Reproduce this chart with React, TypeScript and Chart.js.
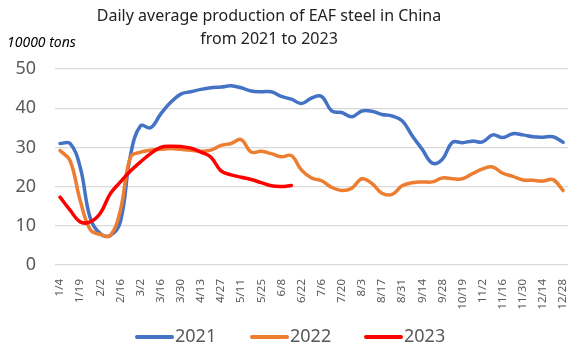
import React, { useEffect, useRef } from "react";
import { Chart, registerables } from "chart.js";

Chart.register(...registerables);

const categories = [
  "1/4", "1/11", "1/19", "1/26", "2/2", "2/9", "2/16", "2/23", "3/2", "3/9",
  "3/16", "3/23", "3/30", "4/6", "4/13", "4/20", "4/27", "5/4", "5/11", "5/18",
  "5/25", "6/1", "6/8", "6/15", "6/22", "6/29", "7/6", "7/13", "7/20", "7/27",
  "8/3", "8/10", "8/17", "8/24", "8/31", "9/7", "9/14", "9/21", "9/28", "10/12",
  "10/19", "10/26", "11/2", "11/9", "11/16", "11/23", "11/30", "12/7", "12/14", "12/21",
  "12/28",
];

const values2021 = [
  31, 31, 25, 12, 8, 7.5, 11, 28, 35.5, 35, 38.5, 41.5, 43.6,
  44.2, 44.8, 45.2, 45.4, 45.7, 45.2, 44.4, 44.2, 44.2, 43, 42.3, 41.2,
  42.6, 43, 39.3, 38.9, 37.8, 39.3, 39.2, 38.4, 38, 36.8, 33, 29.5, 26,
  27, 31.3, 31.2, 31.6, 31.4, 33.2, 32.5, 33.5, 33.2, 32.7, 32.6, 32.7, 31.3,
];

const values2022 = [
  29.2, 26.6, 16.5, 9, 7.8, 7.5, 14, 27.5, 28.8, 29.3, 29.5, 29.7, 29.5,
  29.3, 29, 29.3, 30.5, 31, 32, 28.8, 29, 28.4, 27.6, 27.9, 24.2,
  22.2, 21.5, 19.8, 19, 19.6, 22, 20.8, 18.3, 18, 20.2, 21, 21.2, 21.2,
  22.2, 22, 22, 23.3, 24.5, 25, 23.4, 22.6, 21.7, 21.6, 21.4, 21.8, 19,
];

const values2023 = [
  17.3, 14, 11, 11, 13.2, 18.2, 21.2, 24, 26.3, 28.4, 30, 30.3, 30.2,
  29.8, 28.8, 27.5, 24, 23, 22.4, 21.8, 21, 20.2, 20, 20.3,
];

const seriesNames = ["2021", "2022", "2023"];
const seriesColors = ["#4472C4", "#ED7D31", "#FF0000"];

const yTicks = [0, 10, 20, 30, 40, 50];

const titleLines = ["Daily average production of EAF steel in China", "from 2021 to 2023"];
const unitLabel = "10000 tons";

const FONT = "'Noto Sans', 'Open Sans', sans-serif";

export default function App() {
  const canvasRef = useRef<HTMLCanvasElement | null>(null);

  useEffect(() => {
    const canvas = canvasRef.current;
    if (!canvas) return;

    const textPlugin = {
      id: "texts",
      afterDraw(chart: any) {
        const ctx = chart.ctx;
        ctx.save();
        // title
        ctx.font = `16px ${FONT}`;
        ctx.fillStyle = "#222222";
        ctx.textAlign = "center";
        ctx.textBaseline = "middle";
        ctx.fillText(titleLines[0], 269, 16);
        ctx.fillText(titleLines[1], 269, 39);
        // unit
        ctx.font = `italic 14px ${FONT}`;
        ctx.fillStyle = "#000000";
        ctx.textAlign = "left";
        ctx.fillText(unitLabel, 7, 43);
        // legend
        const starts = [137, 252, 366];
        const ly = 337;
        ctx.font = `18px ${FONT}`;
        chart.data.datasets.forEach((ds: any, i: number) => {
          const x0 = starts[i];
          ctx.strokeStyle = ds.borderColor;
          ctx.lineWidth = 4;
          ctx.lineCap = "round";
          ctx.beginPath();
          ctx.moveTo(x0, ly);
          ctx.lineTo(x0 + 35, ly);
          ctx.stroke();
          ctx.fillStyle = "#595959";
          ctx.fillText(ds.label, x0 + 38, ly);
        });
        ctx.restore();
      },
    };

    const mk = (i: number, data: number[], order: number) => ({
      label: seriesNames[i],
      data,
      borderColor: seriesColors[i],
      backgroundColor: seriesColors[i],
      borderWidth: 3.5,
      pointRadius: 0,
      pointHoverRadius: 0,
      tension: 0.4,
      fill: false,
      order,
      borderCapStyle: "round" as const,
      borderJoinStyle: "round" as const,
    });

    const chart = new Chart(canvas, {
      type: "line",
      data: {
        labels: categories,
        datasets: [mk(0, values2021, 3), mk(1, values2022, 2), mk(2, values2023, 1)],
      },
      options: {
        responsive: false,
        animation: false,
        layout: { padding: { left: 8, right: 9, top: 69, bottom: 37 } },
        plugins: {
          title: { display: false },
          legend: { display: false },
          tooltip: { enabled: false },
        },
        scales: {
          x: {
            offset: true,
            grid: { display: false },
            border: { display: false },
            ticks: {
              autoSkip: false,
              minRotation: 90,
              maxRotation: 90,
              padding: 6,
              color: "#595959",
              font: { family: FONT, size: 11.5 },
              callback: (_v: any, i: number) => (i % 2 === 0 ? categories[i] : ""),
            },
            afterFit: (s: any) => {
              s.height = 50;
            },
          },
          y: {
            min: 0,
            max: 50,
            afterBuildTicks: (s: any) => {
              s.ticks = yTicks.map((v) => ({ value: v }));
            },
            grid: { color: "#D9D9D9", lineWidth: 1.3, drawTicks: false },
            border: { display: false },
            ticks: {
              padding: 19,
              color: "#595959",
              font: { family: FONT, size: 18 },
            },
            afterFit: (s: any) => {
              s.width = 47;
            },
          },
        },
      },
      plugins: [textPlugin],
    });

    return () => chart.destroy();
  }, []);

  return (
    <div style={{ position: "absolute", left: 0, top: 0, width: 583, height: 352, background: "#fff" }}>
      <canvas ref={canvasRef} width={583} height={352} style={{ display: "block" }} />
    </div>
  );
}
